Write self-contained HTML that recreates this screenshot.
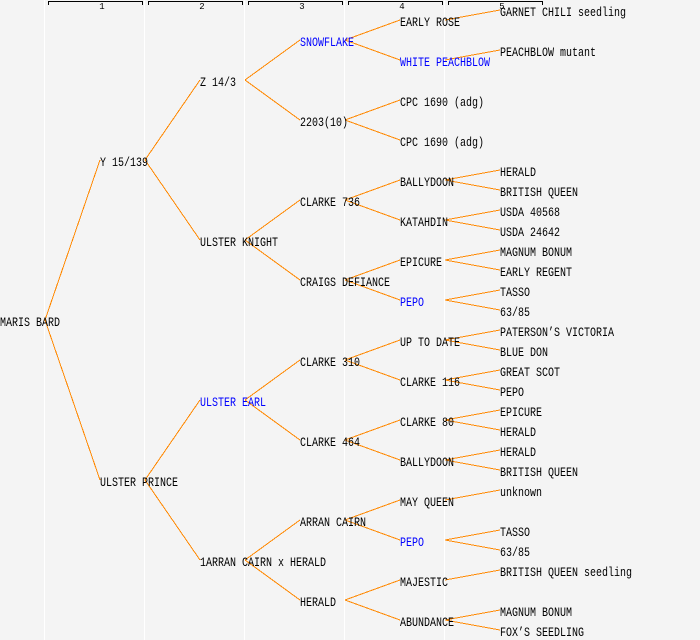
<!DOCTYPE html>
<html>
<head>
<meta charset="utf-8">
<style>
html,body{margin:0;padding:0;background:#f4f4f4;}
svg{display:block;}
.t{font-family:"Liberation Mono",monospace;font-size:13px;fill:#000;}
.b{fill:#0000ff;}
.h{font-family:"Liberation Mono",monospace;font-size:9px;fill:#000;}
</style>
</head>
<body>
<svg width="700" height="640" viewBox="0 0 700 640" xmlns="http://www.w3.org/2000/svg">
<rect x="0" y="0" width="700" height="640" fill="#f4f4f4"/>
<g fill="#ffffff">
<rect x="44" y="0" width="1" height="640"/>
<rect x="144" y="0" width="1" height="640"/>
<rect x="244" y="0" width="1" height="640"/>
<rect x="344" y="0" width="1" height="640"/>
<rect x="444" y="0" width="1" height="640"/>
</g>
<g fill="#000">
<rect x="48" y="1" width="95" height="1"/><rect x="48" y="1" width="1" height="4"/><rect x="142" y="1" width="1" height="4"/>
<rect x="148" y="1" width="95" height="1"/><rect x="148" y="1" width="1" height="4"/><rect x="242" y="1" width="1" height="4"/>
<rect x="248" y="1" width="95" height="1"/><rect x="248" y="1" width="1" height="4"/><rect x="342" y="1" width="1" height="4"/>
<rect x="348" y="1" width="95" height="1"/><rect x="348" y="1" width="1" height="4"/><rect x="442" y="1" width="1" height="4"/>
<rect x="448" y="1" width="95" height="1"/><rect x="448" y="1" width="1" height="4"/><rect x="542" y="1" width="1" height="4"/>
</g>
<g class="h" text-anchor="middle">
<text x="102" y="9">1</text>
<text x="202" y="9">2</text>
<text x="302" y="9">3</text>
<text x="402" y="9">4</text>
<text x="502" y="9">5</text>
</g>
<g stroke="#ff8800" stroke-width="1" fill="none" shape-rendering="crispEdges">
<path d="M45 320 L100 160 M45 320 L100 480"/>
<path d="M145 160 L200 80 M145 160 L200 240"/>
<path d="M145 480 L200 400 M145 480 L200 560"/>
<path d="M245 80 L300 40 M245 80 L300 120"/>
<path d="M245 240 L300 200 M245 240 L300 280"/>
<path d="M245 400 L300 360 M245 400 L300 440"/>
<path d="M245 560 L300 520 M245 560 L300 600"/>
<path d="M345 40 L400 20 M345 40 L400 60"/>
<path d="M345 120 L400 100 M345 120 L400 140"/>
<path d="M345 200 L400 180 M345 200 L400 220"/>
<path d="M345 280 L400 260 M345 280 L400 300"/>
<path d="M345 360 L400 340 M345 360 L400 380"/>
<path d="M345 440 L400 420 M345 440 L400 460"/>
<path d="M345 520 L400 500 M345 520 L400 540"/>
<path d="M345 600 L400 580 M345 600 L400 620"/>
<path d="M445 20 L500 10"/>
<path d="M445 60 L500 50"/>
<path d="M445 180 L500 170 M445 180 L500 190"/>
<path d="M445 220 L500 210 M445 220 L500 230"/>
<path d="M445 260 L500 250 M445 260 L500 270"/>
<path d="M445 300 L500 290 M445 300 L500 310"/>
<path d="M445 340 L500 330 M445 340 L500 350"/>
<path d="M445 380 L500 370 M445 380 L500 390"/>
<path d="M445 420 L500 410 M445 420 L500 430"/>
<path d="M445 460 L500 450 M445 460 L500 470"/>
<path d="M445 500 L500 490"/>
<path d="M445 540 L500 530 M445 540 L500 550"/>
<path d="M445 580 L500 570"/>
<path d="M445 620 L500 610 M445 620 L500 630"/>
</g>
<g class="t">
<text x="0" y="326" textLength="60" lengthAdjust="spacingAndGlyphs">MARIS BARD</text>

<text x="100" y="166" textLength="48" lengthAdjust="spacingAndGlyphs">Y 15/139</text>
<text x="100" y="486" textLength="78" lengthAdjust="spacingAndGlyphs">ULSTER PRINCE</text>

<text x="200" y="86" textLength="36" lengthAdjust="spacingAndGlyphs">Z 14/3</text>
<text x="200" y="246" textLength="78" lengthAdjust="spacingAndGlyphs">ULSTER KNIGHT</text>
<text x="200" y="406" textLength="66" lengthAdjust="spacingAndGlyphs" class="b">ULSTER EARL</text>
<text x="200" y="566" textLength="126" lengthAdjust="spacingAndGlyphs">1ARRAN CAIRN x HERALD</text>

<text x="300" y="46" textLength="54" lengthAdjust="spacingAndGlyphs" class="b">SNOWFLAKE</text>
<text x="300" y="126" textLength="48" lengthAdjust="spacingAndGlyphs">2203(10)</text>
<text x="300" y="206" textLength="60" lengthAdjust="spacingAndGlyphs">CLARKE 736</text>
<text x="300" y="286" textLength="90" lengthAdjust="spacingAndGlyphs">CRAIGS DEFIANCE</text>
<text x="300" y="366" textLength="60" lengthAdjust="spacingAndGlyphs">CLARKE 310</text>
<text x="300" y="446" textLength="60" lengthAdjust="spacingAndGlyphs">CLARKE 464</text>
<text x="300" y="526" textLength="66" lengthAdjust="spacingAndGlyphs">ARRAN CAIRN</text>
<text x="300" y="606" textLength="36" lengthAdjust="spacingAndGlyphs">HERALD</text>

<text x="400" y="26" textLength="60" lengthAdjust="spacingAndGlyphs">EARLY ROSE</text>
<text x="400" y="66" textLength="90" lengthAdjust="spacingAndGlyphs" class="b">WHITE PEACHBLOW</text>
<text x="400" y="106" textLength="84" lengthAdjust="spacingAndGlyphs">CPC 1690 (adg)</text>
<text x="400" y="146" textLength="84" lengthAdjust="spacingAndGlyphs">CPC 1690 (adg)</text>
<text x="400" y="186" textLength="54" lengthAdjust="spacingAndGlyphs">BALLYDOON</text>
<text x="400" y="226" textLength="48" lengthAdjust="spacingAndGlyphs">KATAHDIN</text>
<text x="400" y="266" textLength="42" lengthAdjust="spacingAndGlyphs">EPICURE</text>
<text x="400" y="306" textLength="24" lengthAdjust="spacingAndGlyphs" class="b">PEPO</text>
<text x="400" y="346" textLength="60" lengthAdjust="spacingAndGlyphs">UP TO DATE</text>
<text x="400" y="386" textLength="60" lengthAdjust="spacingAndGlyphs">CLARKE 116</text>
<text x="400" y="426" textLength="54" lengthAdjust="spacingAndGlyphs">CLARKE 80</text>
<text x="400" y="466" textLength="54" lengthAdjust="spacingAndGlyphs">BALLYDOON</text>
<text x="400" y="506" textLength="54" lengthAdjust="spacingAndGlyphs">MAY QUEEN</text>
<text x="400" y="546" textLength="24" lengthAdjust="spacingAndGlyphs" class="b">PEPO</text>
<text x="400" y="586" textLength="48" lengthAdjust="spacingAndGlyphs">MAJESTIC</text>
<text x="400" y="626" textLength="54" lengthAdjust="spacingAndGlyphs">ABUNDANCE</text>

<text x="500" y="16" textLength="126" lengthAdjust="spacingAndGlyphs">GARNET CHILI seedling</text>
<text x="500" y="56" textLength="96" lengthAdjust="spacingAndGlyphs">PEACHBLOW mutant</text>
<text x="500" y="176" textLength="36" lengthAdjust="spacingAndGlyphs">HERALD</text>
<text x="500" y="196" textLength="78" lengthAdjust="spacingAndGlyphs">BRITISH QUEEN</text>
<text x="500" y="216" textLength="60" lengthAdjust="spacingAndGlyphs">USDA 40568</text>
<text x="500" y="236" textLength="60" lengthAdjust="spacingAndGlyphs">USDA 24642</text>
<text x="500" y="256" textLength="72" lengthAdjust="spacingAndGlyphs">MAGNUM BONUM</text>
<text x="500" y="276" textLength="72" lengthAdjust="spacingAndGlyphs">EARLY REGENT</text>
<text x="500" y="296" textLength="30" lengthAdjust="spacingAndGlyphs">TASSO</text>
<text x="500" y="316" textLength="30" lengthAdjust="spacingAndGlyphs">63/85</text>
<text x="500" y="336" textLength="114" lengthAdjust="spacingAndGlyphs">PATERSON’S VICTORIA</text>
<text x="500" y="356" textLength="48" lengthAdjust="spacingAndGlyphs">BLUE DON</text>
<text x="500" y="376" textLength="60" lengthAdjust="spacingAndGlyphs">GREAT SCOT</text>
<text x="500" y="396" textLength="24" lengthAdjust="spacingAndGlyphs">PEPO</text>
<text x="500" y="416" textLength="42" lengthAdjust="spacingAndGlyphs">EPICURE</text>
<text x="500" y="436" textLength="36" lengthAdjust="spacingAndGlyphs">HERALD</text>
<text x="500" y="456" textLength="36" lengthAdjust="spacingAndGlyphs">HERALD</text>
<text x="500" y="476" textLength="78" lengthAdjust="spacingAndGlyphs">BRITISH QUEEN</text>
<text x="500" y="496" textLength="42" lengthAdjust="spacingAndGlyphs">unknown</text>
<text x="500" y="536" textLength="30" lengthAdjust="spacingAndGlyphs">TASSO</text>
<text x="500" y="556" textLength="30" lengthAdjust="spacingAndGlyphs">63/85</text>
<text x="500" y="576" textLength="132" lengthAdjust="spacingAndGlyphs">BRITISH QUEEN seedling</text>
<text x="500" y="616" textLength="72" lengthAdjust="spacingAndGlyphs">MAGNUM BONUM</text>
<text x="500" y="636" textLength="84" lengthAdjust="spacingAndGlyphs">FOX’S SEEDLING</text>
</g>
</svg>
</body>
</html>
